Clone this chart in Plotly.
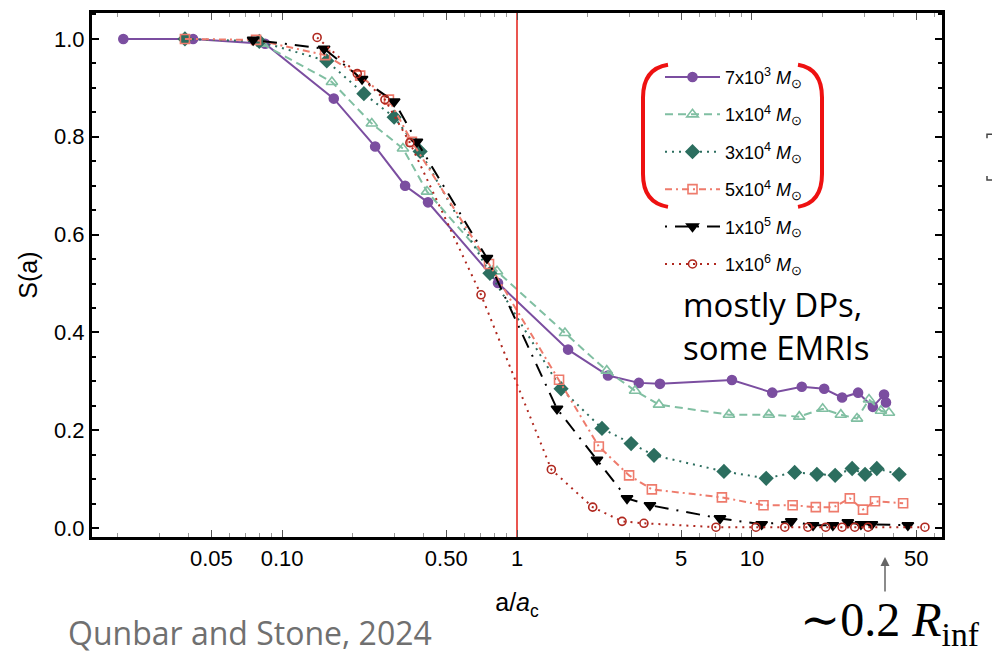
import plotly.graph_objects as go

# ---------------- data ----------------
names = ["7x10<sup>3</sup> <i>M</i><sub>⊙</sub>", "1x10<sup>4</sup> <i>M</i><sub>⊙</sub>",
         "3x10<sup>4</sup> <i>M</i><sub>⊙</sub>", "5x10<sup>4</sup> <i>M</i><sub>⊙</sub>",
         "1x10<sup>5</sup> <i>M</i><sub>⊙</sub>", "1x10<sup>6</sup> <i>M</i><sub>⊙</sub>"]

m7e3_x = [0.0211, 0.0418, 0.0847, 0.166, 0.249, 0.334, 0.418, 0.83, 1.65, 2.44, 3.30, 4.06,
          8.22, 12.2, 16.3, 20.3, 24.2, 28.3, 32.7, 36.5, 37.2]
m7e3_y = [1.0, 1.0, 0.99, 0.878, 0.78, 0.70, 0.666, 0.501, 0.365, 0.312, 0.297, 0.295,
          0.303, 0.277, 0.289, 0.285, 0.267, 0.277, 0.248, 0.273, 0.257]

m1e4_x = [0.0822, 0.163, 0.241, 0.327, 0.414, 0.822, 1.60, 2.41, 3.18, 4.02,
          7.98, 11.8, 15.9, 20.0, 23.9, 28.0, 31.5, 35.4, 38.3]
m1e4_y = [0.99, 0.912, 0.827, 0.776, 0.688, 0.525, 0.399, 0.322, 0.281, 0.2525,
          0.232, 0.232, 0.228, 0.244, 0.232, 0.224, 0.263, 0.240, 0.236]

m3e4_x = [0.0386, 0.080, 0.155, 0.223, 0.300, 0.387, 0.767, 1.54, 2.30, 3.06, 3.83,
          7.6, 11.5, 15.2, 18.9, 22.6, 26.7, 30.3, 34.0, 42.3]
m3e4_y = [1.0, 0.995, 0.955, 0.888, 0.84, 0.770, 0.521, 0.285, 0.204, 0.173, 0.149,
          0.116, 0.102, 0.114, 0.110, 0.108, 0.122, 0.110, 0.122, 0.110]

m5e4_x = [0.0386, 0.0775, 0.1525, 0.215, 0.285, 0.357, 0.76, 1.51, 2.23, 3.0, 3.75,
          7.45, 11.2, 14.9, 18.7, 22.3, 26.1, 29.7, 33.4, 44.0]
m5e4_y = [1.0, 0.998, 0.967, 0.925, 0.876, 0.79, 0.54, 0.3035, 0.167, 0.108, 0.0794,
          0.063, 0.047, 0.047, 0.043, 0.043, 0.061, 0.038, 0.055, 0.051]

m1e5_x = [0.0753, 0.151, 0.219, 0.30, 0.375, 0.745, 1.48, 2.19, 2.94, 3.68,
          7.31, 11.0, 14.7, 18.2, 22.1, 25.6, 29.1, 32.4, 46.1]
m1e5_y = [0.998, 0.98, 0.918, 0.872, 0.79, 0.552, 0.244, 0.140, 0.061, 0.047,
          0.020, 0.008, 0.014, 0.006, 0.006, 0.012, 0.008, 0.008, 0.006]

m1e6_x = [0.141, 0.209, 0.274, 0.35, 0.703, 1.40, 2.10, 2.80, 3.47,
          7.03, 10.4, 13.8, 17.3, 20.6, 24.2, 27.4, 31.2, 54.5]
m1e6_y = [1.003, 0.929, 0.876, 0.788, 0.477, 0.120, 0.043, 0.014, 0.010,
          0.002, 0.002, 0.002, 0.002, 0.002, 0.002, 0.002, 0.002, 0.002]

x_tickvals = [0.05, 0.1, 0.5, 1, 5, 10, 50]
x_ticktext = ["0.05", "0.10", "0.50", "1", "5", "10", "50"]
y_tickvals = [0.0, 0.2, 0.4, 0.6, 0.8, 1.0]
y_ticktext = ["0.0", "0.2", "0.4", "0.6", "0.8", "1.0"]

# ---------------- styles ----------------
series = [
    (m7e3_x, m7e3_y, "#7b4ea0", "solid", "circle", 9),
    (m1e4_x, m1e4_y, "#80bfa2", "8px,5px", "triangle-up-open", 10),
    (m3e4_x, m3e4_y, "#2c6e5f", "2px,5px", "diamond", 10),
    (m5e4_x, m5e4_y, "#ee7b6c", "7px,4px,2px,4px", "square-open", 9),
    (m1e5_x, m1e5_y, "#000000", "2px,8px,14px,8px", "triangle-down", 10),
    (m1e6_x, m1e6_y, "#b0281f", "2px,5px", "circle-open", 8),
]

fig = go.Figure()
for i, (xs, ys, col, dash, sym, sz) in enumerate(series):
    fig.add_trace(go.Scatter(
        x=xs, y=ys, mode="lines+markers", name=names[i], legendgroup=f"g{i}",
        line=dict(color=col, width=2, dash=dash),
        marker=dict(symbol=sym, size=sz, color=col, line=dict(color=col, width=1.6)),
    ))

# red vertical line at a/a_c = 1
fig.add_trace(go.Scatter(x=[1, 1], y=[-0.2, 1.2], mode="lines", showlegend=False,
                         line=dict(color="#e52b24", width=1.6), hoverinfo="skip"))

# ---------------- layout helpers (pixel -> paper) ----------------
L, R, T, B = 92, 942, 10, 537
def px(x):
    return (x - L) / (R - L)
def py(y):
    return (B - y) / (B - T)

font_ax = "Liberation Sans, Arial, sans-serif"

minor_x = []
for dec in [0.01, 0.1, 1, 10]:
    for k in range(2, 10):
        v = k * dec
        if 0.0155 < v < 64 and round(v, 6) not in x_tickvals:
            minor_x.append(v)

fig.update_layout(
    width=992, height=653,
    margin=dict(l=L, r=992 - R, t=T, b=653 - B),
    paper_bgcolor="white", plot_bgcolor="white",
    showlegend=True,
    legend=dict(x=px(660), y=py(56), xanchor="left", yanchor="top",
                bgcolor="rgba(0,0,0,0)", font=dict(family=font_ax, size=18, color="black"),
                tracegroupgap=11, itemwidth=55, traceorder="grouped"),
    xaxis=dict(type="log", range=[-1.809, 1.809], tickmode="array",
               tickvals=x_tickvals, ticktext=x_ticktext,
               ticks="inside", ticklen=7, tickwidth=1, tickcolor="#555",
               showline=True, linewidth=3, linecolor="black", mirror="ticks",
               showgrid=False, zeroline=False,
               tickfont=dict(family=font_ax, size=22, color="black"),
               minor=dict(tickvals=minor_x, ticks="inside", ticklen=4, tickcolor="#999", showgrid=False),
               title=dict(text="a/<i>a</i><sub>c</sub>", font=dict(family=font_ax, size=25, color="black"),
                          standoff=24)),
    yaxis=dict(range=[-0.018, 1.053], tickmode="array",
               tickvals=y_tickvals, ticktext=y_ticktext,
               ticks="inside", ticklen=7, tickwidth=2, tickcolor="black",
               showline=True, linewidth=3, linecolor="black", mirror="ticks",
               showgrid=False, zeroline=False,
               tickfont=dict(family=font_ax, size=22, color="black"),
               minor=dict(dtick=0.05, tick0=0, ticks="inside", ticklen=4, tickwidth=2,
                          tickcolor="black", showgrid=False),
               title=dict(text="S(a)", font=dict(family=font_ax, size=25, color="black"),
                          standoff=10)),
)

# red brackets around first four legend entries
left_br = (f"M {px(668)} {py(62)} Q {px(643)} {py(66)} {px(643)} {py(95)} "
           f"L {px(643)} {py(172)} Q {px(643)} {py(201)} {px(668)} {py(205)}")
right_br = (f"M {px(798)} {py(62)} Q {px(822)} {py(66)} {px(822)} {py(95)} "
            f"L {px(822)} {py(172)} Q {px(822)} {py(201)} {px(798)} {py(205)}")
for p in (left_br, right_br):
    fig.add_shape(type="path", path=p, xref="paper", yref="paper",
                  line=dict(color="#ee1111", width=4))

# small cropped bracket at the right edge
for p in (f"M {px(992)} {py(132)} L {px(987)} {py(132)} L {px(987)} {py(136)}",
          f"M {px(987)} {py(174)} L {px(987)} {py(178)} L {px(992)} {py(178)}"):
    fig.add_shape(type="path", path=p, xref="paper", yref="paper",
                  line=dict(color="#444", width=1.5))

# annotations
fig.add_annotation(x=px(681), y=py(325), xref="paper", yref="paper", xanchor="left", yanchor="middle",
                   text="mostly DPs,<br>some EMRIs", showarrow=False, align="left",
                   font=dict(family="Open Sans, Noto Sans, sans-serif", size=33, color="black"))
fig.add_annotation(x=px(66), y=py(633), xref="paper", yref="paper", xanchor="left", yanchor="middle",
                   text="Qunbar and Stone, 2024", showarrow=False,
                   font=dict(family="Open Sans, Noto Sans, sans-serif", size=32, color="#707070"))
fig.add_annotation(x=px(890), y=py(623), xref="paper", yref="paper", xanchor="center", yanchor="middle",
                   text="∼0.2 <i>R</i><sub>inf</sub>", showarrow=False,
                   font=dict(family="Liberation Serif, DejaVu Serif, serif", size=48, color="black"))
fig.add_annotation(x=px(885), y=py(557), xref="paper", yref="paper", text="",
                   showarrow=True, ax=0, ay=36, arrowhead=2, arrowsize=1.2, arrowwidth=1.5,
                   arrowcolor="#666")

fig.write_html("out.html")
